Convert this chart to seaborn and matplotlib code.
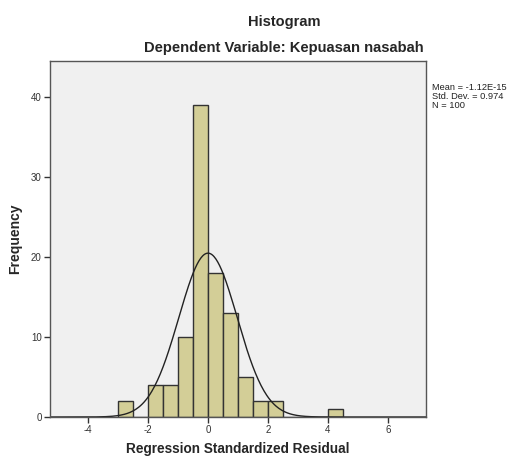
import numpy as np
import matplotlib
matplotlib.use("Agg")
import matplotlib.pyplot as plt
import seaborn as sns

# Data
bin_edges = [-3.0, -2.5, -2.0, -1.5, -1.0, -0.5, 0.0, 0.5, 1.0, 1.5, 2.0, 2.5, 3.0, 3.5, 4.0, 4.5]
counts    = [2, 0, 4, 4, 10, 39, 18, 13, 5, 2, 2, 0, 0, 0, 1]
mean_val = -1.12e-15
std_val = 0.974
n_val = 100
x_ticks = [-4, -2, 0, 2, 4, 6]
y_ticks = [0, 10, 20, 30, 40]

sns.set_theme(style="white")
plt.rcParams['font.family'] = ['Liberation Sans', 'DejaVu Sans']

fig = plt.figure(figsize=(5.10, 4.58), dpi=100)
ax = fig.add_axes([50/510, 1 - 417/458, 376/510, 356/458])
ax.set_facecolor('#F0F0F0')

centers = [(bin_edges[i] + bin_edges[i + 1]) / 2 for i in range(len(counts))]
sns.histplot(x=centers, weights=counts, bins=bin_edges, ax=ax,
             color='#D3CE97', edgecolor='#333333', linewidth=1.0, alpha=1.0)

bw = bin_edges[1] - bin_edges[0]
xs = np.linspace(-5.27, 7.27, 400)
ys = n_val * bw / (std_val * np.sqrt(2 * np.pi)) * np.exp(-0.5 * ((xs - mean_val) / std_val) ** 2)
sns.lineplot(x=xs, y=ys, ax=ax, color='#222222', linewidth=1.0)

ax.set_xlim(-5.27, 7.27)
ax.set_ylim(0, 44.5)
ax.set_xticks(x_ticks)
ax.set_yticks(y_ticks)
ax.set_xticklabels([str(t) for t in x_ticks], fontsize=7, color='#333333')
ax.set_yticklabels([str(t) for t in y_ticks], fontsize=7, color='#333333')
ax.tick_params(axis='both', direction='out', length=4, width=1, color='#333333', pad=2,
               bottom=True, left=True)
for s in ax.spines.values():
    s.set_color('#555555')
    s.set_linewidth(1.0)

ax.set_xlabel('Regression Standardized Residual', fontsize=9.8, fontweight='bold', labelpad=5)
ax.set_ylabel('Frequency', fontsize=10, fontweight='bold', labelpad=6)

fig.text(284/510, 1 - 22/458, 'Histogram', ha='center', va='center',
         fontsize=10.5, fontweight='bold')
fig.text(284/510, 1 - 48/458, 'Dependent Variable: Kepuasan nasabah', ha='center', va='center',
         fontsize=10.6, fontweight='bold')
fig.text(432/510, 1 - 83/458,
         f'Mean = -1.12E-15\nStd. Dev. = {std_val}\nN = {n_val}',
         ha='left', va='top', fontsize=6.7, linespacing=1.0, color='#222222')

fig.savefig('out.png', dpi=100, facecolor='white')
